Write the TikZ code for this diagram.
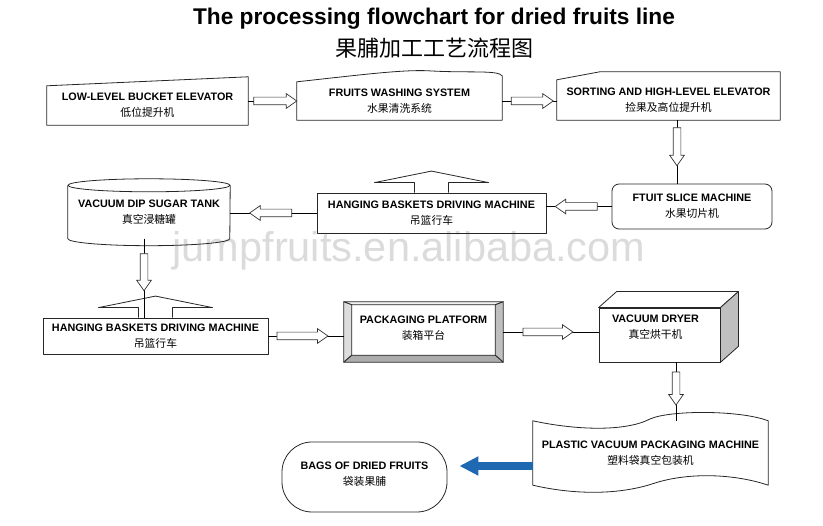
\documentclass[tikz,border=0pt]{standalone}
\usepackage{fontspec}
\setmainfont{Liberation Sans}
\newfontfamily\cjk{Noto Sans CJK SC}
\usetikzlibrary{arrows.meta, calc, positioning, shapes.arrows}
\tikzset{
  box/.style={draw=none, inner sep=0pt, align=center,
    font=\fontsize{10.8}{16}\selectfont}, % text of every machine
  outline/.style={draw=black!85, line width=0.8pt, line join=round},
  harrow/.style={single arrow, draw=black!80, line width=0.7pt, fill=white,
    inner xsep=0pt, inner ysep=3.5pt, minimum height=#1,
    single arrow head extend=3.5pt, single arrow tip angle=70,
    sloped, allow upside down}, % hollow block arrow between two machines
  bluearrow/.style={draw={rgb,255:red,31;green,105;blue,178}, line width=8.5pt,
    -{Triangle[length=19pt, width=18pt]}},
}
\newcommand{\machine}[2]{\textbf{#1}\\{\cjk #2}}
% roof on top of the hanging baskets
\newcommand{\roof}[1]{\draw[outline] ([shift={(-17,0)}]#1.north) -- ++(0,-10)
  -- ++(-40,0) -- ++(57,-11.5) -- ++(57,11.5) -- ++(-40,0) -- ++(0,10);}

\begin{document}
\begin{tikzpicture}[x=1pt, y=-1pt]
    \useasboundingbox (0,0) rectangle (823,526);

    \node[font=\bfseries\fontsize{22.7}{27}\selectfont, anchor=base] (title) at (434,25)
      {The processing flowchart for dried fruits line};
    \node[font=\cjk\fontsize{22}{26}\selectfont] (subtitle) at (434,48) {果脯加工工艺流程图};

    \node[font=\fontsize{41.5}{42}\selectfont, text=gray!28] (mark) at (409,251)
      {jumpfruits.en.alibaba.com};

    % first row
    \node[box, minimum width=201pt, minimum height=39pt] (lowelev) at (147.5,105.5)
      {\machine{LOW-LEVEL BUCKET ELEVATOR}{低位提升机}};
    \draw[outline] (lowelev.south west) -- (lowelev.south east)
      -- ([shift={(0,-9)}]lowelev.north east) -- (lowelev.north west) -- cycle;

    \node[box, minimum width=205pt, minimum height=38pt] (washing) at (399.5,101)
      {\machine{FRUITS WASHING SYSTEM}{水果清洗系统}};
    \draw[outline] (washing.south west) -- (washing.north west)
      .. controls (360,75) and (405,69) .. (432,71)
      .. controls (470,73) and (498,70) .. ([shift={(0,-6)}]washing.north east)
      -- (washing.south east) -- cycle;

    \node[box, minimum width=223pt, minimum height=40pt] (sorting) at (668.5,100)
      {\machine{SORTING AND HIGH-LEVEL ELEVATOR}{捡果及高位提升机}};
    \draw[outline] (sorting.south west) -- (sorting.north west)
      -- ([shift={(43,-8)}]sorting.north west) -- ([shift={(0,-8)}]sorting.north east)
      -- (sorting.south east) -- cycle;

    % second row
    \node[box, outline, rounded corners=7pt, minimum width=160pt, minimum height=45pt]
      (slice) at (692,206.5) {\machine{FTUIT SLICE MACHINE}{水果切片机}};

    \node[box, outline, minimum width=229pt, minimum height=40pt] (hang1) at (431.5,213)
      {\machine{HANGING BASKETS DRIVING MACHINE}{吊篮行车}};
    \roof{hang1}

    \node[box, minimum width=162pt, minimum height=53pt] (tank) at (149,212)
      {\machine{VACUUM DIP SUGAR TANK}{真空浸糖罐}};
    \draw[outline] (tank.north) ellipse [x radius=81pt, y radius=6.5pt];
    \draw[outline] (tank.north west) -- (tank.south west)
      arc [start angle=180, end angle=360, x radius=81pt, y radius=7pt] -- (tank.north east);

    % third row
    \node[box, outline, minimum width=225pt, minimum height=36pt] (hang2) at (155.5,336)
      {\machine{HANGING BASKETS DRIVING MACHINE}{吊篮行车}};
    \roof{hang2}

    \node[box, minimum width=159pt, minimum height=60pt] (platform) at (423.5,332) {};
    \draw[outline, fill=gray!12] (platform.north west) -- (platform.north east)
      -- ([shift={(-8,3)}]platform.north east) -- ([shift={(8,3)}]platform.north west) -- cycle;
    \draw[outline, fill=gray!27] (platform.north west) -- ([shift={(8,3)}]platform.north west)
      -- ([shift={(8,-7)}]platform.south west) -- (platform.south west) -- cycle;
    \draw[outline, fill=gray!50] (platform.north east) -- (platform.south east)
      -- ([shift={(-8,-7)}]platform.south east) -- ([shift={(-8,3)}]platform.north east) -- cycle;
    \draw[outline, fill=gray!65] (platform.south west) -- ([shift={(8,-7)}]platform.south west)
      -- ([shift={(-8,-7)}]platform.south east) -- (platform.south east) -- cycle;
    \node[box] (platformlbl) at ([shift={(0,-4)}]platform.center)
      {\machine{PACKAGING PLATFORM}{装箱平台}};

    \node[box, outline, minimum width=121pt, minimum height=54pt] (dryer) at (659.5,335) {};
    \draw[outline, fill=white] (dryer.north west) -- ++(18,-16)
      -- ([shift={(18,-16)}]dryer.north east) -- (dryer.north east) -- cycle;
    \draw[outline, fill=gray!50] (dryer.north east) -- ++(18,-16)
      -- ([shift={(18,-16)}]dryer.south east) -- (dryer.south east) -- cycle;
    \node[box] (dryerlbl) at ([shift={(-4,-8)}]dryer.center) {\machine{VACUUM DRYER}{真空烘干机}};

    % last row
    \node[box, minimum width=235pt, minimum height=64pt] (plastic) at (650.5,453)
      {\machine{PLASTIC VACUUM PACKAGING MACHINE}{塑料袋真空包装机}};
    \draw[outline] (plastic.north west)
      .. controls (575,430) and (625,432) .. (650,419)
      .. controls (670,410) and (740,410) .. (plastic.north east)
      -- (plastic.south east)
      .. controls (735,474) and (690,472) .. (655,483)
      .. controls (620,495) and (575,495) .. (plastic.south west) -- cycle;

    \node[box, outline, rounded corners=30pt, minimum width=165pt, minimum height=70pt]
      (bags) at (364.5,477) {};
    \node[box] (bagslbl) at ([shift={(0,-3)}]bags.center) {\machine{BAGS OF DRIED FRUITS}{袋装果脯}};

    \coordinate (sortout) at ([shift={(8.5,0)}]sorting.south);
    \coordinate (tankout) at ([shift={(-5,0)}]tank.south);
    \coordinate (dryerout) at ([shift={(16.5,0)}]dryer.south);
    \coordinate (plasticout) at ([shift={(0,13)}]plastic.west);

    \path
    (washing.west -| lowelev.east) edge node[harrow=43pt] {} (washing.west)
    (washing.east) edge node[harrow=42pt] {} (washing.east -| sorting.west)
    (sortout) edge node[harrow=38pt, pos=0.375] {} (sortout |- slice.north)
    (slice.west) edge node[harrow=42pt] {} (slice.west -| hang1.east)
    (hang1.west) edge node[harrow=42pt] {} (hang1.west -| tank.east)
    (tankout) edge node[harrow=37pt, pos=0.39] {} (tankout |- hang2.north)
    (hang2.east) edge node[harrow=51pt, pos=0.415] {} (hang2.east -| platform.west)
    (platform.east) edge node[harrow=50pt, pos=0.44] {} (platform.east -| dryer.west)
    (dryerout) edge node[harrow=33pt, pos=0.4] {} (dryerout |- plastic.north)
    ;
    \draw[bluearrow, shorten >=12pt] (plasticout) -- (plasticout -| bags.east);

\end{tikzpicture}
\end{document}
